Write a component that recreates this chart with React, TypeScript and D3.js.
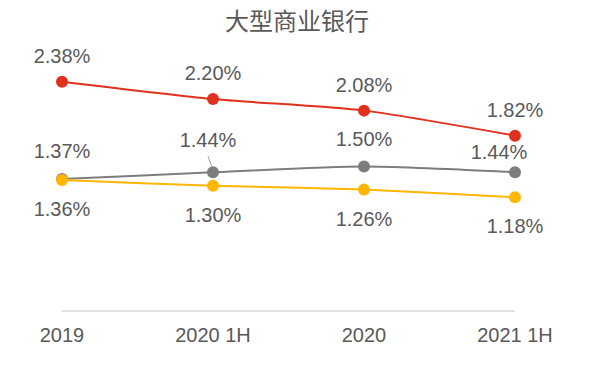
import React from 'react';
import * as d3 from 'd3';

const categories = ['2019', '2020 1H', '2020', '2021 1H'];
const seriesNames = ['red', 'gray', 'yellow'];
const redValues = [2.38, 2.2, 2.08, 1.82];
const grayValues = [1.37, 1.44, 1.5, 1.44];
const yellowValues = [1.36, 1.3, 1.26, 1.18];
const title = '大型商业银行';

const W = 600;
const H = 375;
const margin = { top: 22, right: 85, bottom: 64, left: 62 };

const colors: Record<string, string> = {
  red: '#E0301E',
  gray: '#7D7D7D',
  yellow: '#FFB600',
};
// label offset from the point, per series (px)
const labelDy: Record<string, number> = { red: -19, gray: -21, yellow: 36 };
// a couple of labels sit off the default spot
const labelNudge: Record<string, [number, number]> = {
  'gray-1': [-5, -25],
  'gray-3': [-16, -13],
};

const textColor = '#595959';
const font = '"Liberation Sans", Arial, sans-serif';

export default function App() {
  const x = d3.scalePoint<string>()
    .domain(categories)
    .range([margin.left, W - margin.right]);
  const y = d3.scaleLinear()
    .domain([0, 3])
    .range([H - margin.bottom, margin.top]);

  const series = [
    { name: 'red', values: redValues },
    { name: 'gray', values: grayValues },
    { name: 'yellow', values: yellowValues },
  ];

  const line = d3.line<number>()
    .x((_, i) => x(categories[i]) || 0)
    .y(d => y(d))
    .curve(d3.curveCardinal.tension(0.3));

  const x0 = x(categories[0]) || 0;
  const x1 = x(categories[categories.length - 1]) || 0;

  return (
    <svg width={W} height={H} style={{ position: 'absolute', left: 0, top: 0, background: '#fff' }}>
      <text x={297} y={30} textAnchor="middle" fontSize={24} fill={textColor}
        fontFamily='"Noto Sans CJK SC", sans-serif'>{title}</text>

      <line x1={x0} x2={x1} y1={y(0)} y2={y(0)} stroke="#D9D9D9" strokeWidth={1.5} />

      {categories.map(c => (
        <text key={c} x={x(c)} y={342} textAnchor="middle" fontSize={20}
          fill={textColor} fontFamily={font}>{c}</text>
      ))}

      {series.map(s => (
        <g key={s.name}>
          <path d={line(s.values) || ''} fill="none" stroke={colors[s.name]} strokeWidth={2} />
          {s.values.map((v, i) => (
            <circle key={i} cx={x(categories[i])} cy={y(v)} r={6} fill={colors[s.name]} />
          ))}
        </g>
      ))}

      {seriesNames.map(name => {
        const s = series.find(d => d.name === name)!;
        return s.values.map((v, i) => {
          const px = x(categories[i]) || 0;
          const py = y(v);
          const nudge = labelNudge[`${name}-${i}`];
          const lx = px + (nudge ? nudge[0] : 0);
          const ly = py + (nudge ? nudge[1] : labelDy[name]);
          return (
            <g key={`${name}-${i}`}>
              {nudge && name === 'gray' && i === 1 && (
                <line x1={lx} y1={ly + 9} x2={px - 1} y2={py - 5} stroke="#A6A6A6" strokeWidth={1} />
              )}
              <text x={lx} y={ly} textAnchor="middle" fontSize={20} fill={textColor}
                fontFamily={font}>{v.toFixed(2)}%</text>
            </g>
          );
        });
      })}
    </svg>
  );
}
